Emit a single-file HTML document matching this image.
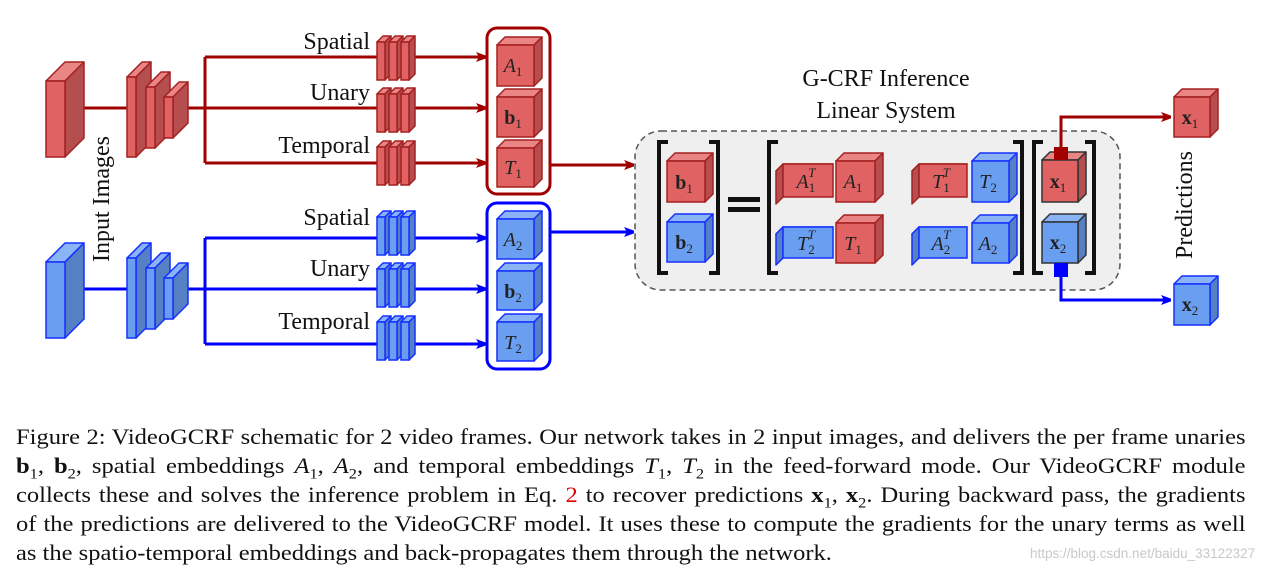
<!DOCTYPE html>
<html><head><meta charset="utf-8"><style>
html,body{margin:0;padding:0;background:#fff;width:1266px;height:576px;overflow:hidden}
svg{position:absolute;left:0;top:0}
.cap{position:absolute;left:16px;width:1128px;font-family:"Liberation Serif",serif;font-size:22.5px;color:#111;line-height:29px;top:422px;transform:scaleX(1.09);transform-origin:0 0}
.cap div{text-align:justify;text-align-last:justify;white-space:nowrap;height:29px}
.cap div.last{text-align-last:left}
.cap sub{font-size:15px;line-height:0}
.wm{position:absolute;left:1030px;top:546px;font-family:"Liberation Sans",sans-serif;font-size:13.5px;color:#c8c8c8}
</style></head><body>
<svg id="s" width="1266" height="576" viewBox="0 0 1266 576" xmlns="http://www.w3.org/2000/svg">
<defs>
<marker id="ar" markerWidth="10" markerHeight="10" refX="9" refY="5" orient="auto" markerUnits="userSpaceOnUse"><path d="M0,0 L14,5 L0,10 L3,5z" fill="#a00000"/></marker>
<marker id="ab" markerWidth="10" markerHeight="10" refX="9" refY="5" orient="auto" markerUnits="userSpaceOnUse"><path d="M0,0 L14,5 L0,10 L3,5z" fill="#0000ff"/></marker>
</defs>
<g id="bg"></g>
</svg>
<div class="cap">
<div>Figure 2: VideoGCRF schematic for 2 video frames. Our network takes in 2 input images, and delivers the per frame unaries</div>
<div><b>b</b><sub>1</sub>, <b>b</b><sub>2</sub>, spatial embeddings <i>A</i><sub>1</sub>, <i>A</i><sub>2</sub>, and temporal embeddings <i>T</i><sub>1</sub>, <i>T</i><sub>2</sub> in the feed-forward mode. Our VideoGCRF module</div>
<div>collects these and solves the inference problem in Eq. <span style="color:#e00000">2</span> to recover predictions <b>x</b><sub>1</sub>, <b>x</b><sub>2</sub>. During backward pass, the gradients</div>
<div>of the predictions are delivered to the VideoGCRF model. It uses these to compute the gradients for the unary terms as well</div>
<div class="last">as the spatio-temporal embeddings and back-propagates them through the network.</div>
</div>
<div class="wm">https://blog.csdn.net/baidu_33122327</div>
<script>
var s=document.getElementById('s');var out='';
var R={f:'#e06262',t:'#e98585',sd:'#b54e4e',st:'#a52020'};
var B={f:'#6a9ef0',t:'#8ab4f6',sd:'#5580c4',st:'#1530ff'};
function P(a,c,st){return '<polygon points="'+a.join(' ')+'" fill="'+c+'" stroke="'+st+'" stroke-width="1.5" stroke-linejoin="round"/>';}
function cube(x,y,w,h,dx,dy,C,st){st=st||C.st;var o='';
 o+=P([x+','+y,(x+dx)+','+(y-dy),(x+w+dx)+','+(y-dy),(x+w)+','+y],C.t,st);
 var sx=dx<0?x:x+w;
 o+=P([sx+','+y,(sx+dx)+','+(y-dy),(sx+dx)+','+(y+h-dy),sx+','+(y+h)],C.sd,st);
 o+='<rect x="'+x+'" y="'+y+'" width="'+w+'" height="'+h+'" fill="'+C.f+'" stroke="'+st+'" stroke-width="1.5"/>';
 out+=o;}
function line(d,c,m){out+='<path d="'+d+'" fill="none" stroke="'+c+'" stroke-width="3"'+(m?' marker-end="url(#'+m+')"':'')+'/>';}
function txt(x,y,t,sz,anchor,extra){out+='<text x="'+x+'" y="'+y+'" font-family="Liberation Serif,serif" font-size="'+sz+'" text-anchor="'+(anchor||'start')+'" fill="#111" '+(extra||'')+'>'+t+'</text>';}
function lab(cx,cy,main,sub,bold,sup){out+='<text x="'+cx+'" y="'+cy+'" font-family="Liberation Serif,serif" font-size="20" text-anchor="middle" fill="#222"'+(bold?' font-weight="bold"':' font-style="italic"')+'>'+main+'<tspan font-size="13" font-style="normal" font-weight="normal" dy="4">'+sub+'</tspan>'+(sup?'<tspan font-size="13" font-style="italic" font-weight="normal" dx="-7" dy="-15">'+sup+'</tspan>':'')+'</text>';}
out+='<rect x="635" y="131" width="485" height="159" rx="26" fill="#efefef" stroke="#555" stroke-width="1.5" stroke-dasharray="6,4"/>';
[[0,R,'ar','#a00000'],[1,B,'ab','#0000ff']].forEach(function(a){
 var o=a[0]?181:0,C=a[1],m=a[2],c=a[3];
 line('M65,'+(108+o)+' H127',c);line('M173,'+(108+o)+' H205',c);
 line('M205,'+(57+o)+' V'+(163+o),c);
 [57,108,163].forEach(function(y){line('M205,'+(y+o)+' H485',c,m);});
 cube(46,81+o,19,76,19,19,C);
 cube(127,77+o,9,80,15,15,C);cube(146,87+o,9,61,15,15,C);cube(164,97+o,9,41,15,15,C);
 [[42,'Spatial',49],[94,'Unary',100],[147,'Temporal',153]].forEach(function(r){
  var y=r[0]+o+(a[0]?-6:0);
  [377,389,401].forEach(function(x){cube(x,y,8,38,6,6,C);});
  txt(370,r[2]+o-(a[0]?5:0),r[1],24,'end');
 });
});
out+='<rect x="487" y="28" width="63" height="166" rx="10" fill="none" stroke="#a00000" stroke-width="3"/>';
out+='<rect x="487" y="203" width="63" height="166" rx="10" fill="none" stroke="#0000ff" stroke-width="3"/>';
cube(497,45,37,41,8,8,R);lab(513,72,'A','1');
cube(497,97,37,40,8,8,R);lab(513,124,'b','1',1);
cube(497,148,37,39,8,8,R);lab(513,174,'T','1');
cube(497,219,37,40,8,8,B);lab(513,246,'A','2');
cube(497,271,37,39,8,8,B);lab(513,298,'b','2',1);
cube(497,322,37,39,8,8,B);lab(513,349,'T','2');
line('M550,165 H633','#a00000','ar');line('M550,232 H633','#0000ff','ab');
function br(x1,x2,y1,y2){out+='<path d="M'+(x1+9)+','+y1+' H'+x1+' V'+y2+' H'+(x1+9)+' M'+(x2-9)+','+y1+' H'+x2+' V'+y2+' H'+(x2-9)+'" fill="none" stroke="#111" stroke-width="4"/>';}
br(659,718,142,273);br(769,1022,142,273);br(1034,1094,142,273);
cube(667,161,38,41,8,8,R);lab(684,189,'b','1',1);
cube(667,222,38,40,8,8,B);lab(684,249,'b','2',1);
out+='<rect x="728" y="197" width="32" height="5" fill="#111"/><rect x="728" y="207" width="32" height="5" fill="#111"/>';
cube(783,164,50,33,-7,-7,R);lab(806,188,'A','1',0,'T');
cube(836,161,39,41,8,8,R);lab(853,188,'A','1');
cube(919,164,48,33,-7,-7,R);lab(941,188,'T','1',0,'T');
cube(972,161,37,41,8,8,B);lab(988,188,'T','2');
cube(783,227,50,31,-7,-7,B);lab(806,250,'T','2',0,'T');
cube(836,223,39,40,8,8,R);lab(853,250,'T','1');
cube(919,227,48,31,-7,-7,B);lab(941,250,'A','2',0,'T');
cube(972,223,37,40,8,8,B);lab(988,250,'A','2');
cube(1042,160,36,42,8,8,R,'#333');lab(1058,188,'x','1',1);
cube(1042,222,36,41,8,8,B,'#333');lab(1058,249,'x','2',1);
line('M1061,150 V117 H1170','#a00000','ar');
line('M1061,272 V300 H1170','#0000ff','ab');
out+='<rect x="1054" y="147" width="14" height="13" fill="#a00000"/><rect x="1054" y="263" width="14" height="14" fill="#0000ff"/>';
cube(1174,97,36,40,8,8,R);lab(1190,124,'x','1',1);
cube(1174,284,36,41,8,8,B);lab(1190,311,'x','2',1);
txt(886,86,'G-CRF Inference',24,'middle');txt(886,118,'Linear System',24,'middle');
txt(0,0,'Predictions',24,'middle','transform="translate(1192,205) rotate(-90)"');
txt(0,0,'Input Images',24,'middle','transform="translate(109,199) rotate(-90)"');
s.innerHTML+=out;
</script>
</body></html>
